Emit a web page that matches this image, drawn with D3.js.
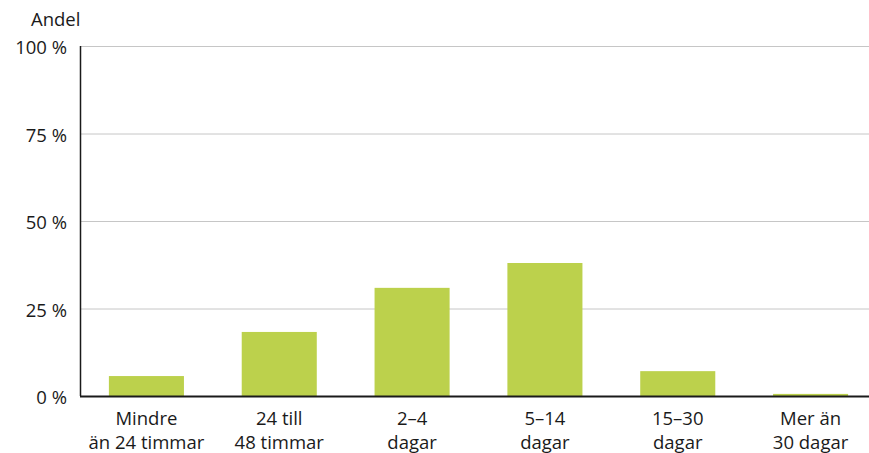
<!DOCTYPE html>
<html>
<head>
<meta charset="utf-8">
<script src="https://cdn.jsdelivr.net/npm/d3@7"></script>
<style>
  html, body { margin: 0; padding: 0; background: #fff; }
  svg { display: block; font-family: "Open Sans", Lato, sans-serif; }
</style>
</head>
<body>
<svg id="chart" width="869" height="453"></svg>
<script>
// Duration categories (two label lines each) and share per category, in percent
const categoryLine1 = ["Mindre", "24 till", "2–4", "5–14", "15–30", "Mer än"];
const categoryLine2 = ["än 24 timmar", "48 timmar", "dagar", "dagar", "dagar", "30 dagar"];
const shares = [5.7, 18.3, 30.9, 38.0, 7.1, 0.6];
const yTicks = [0, 25, 50, 75, 100];
const yTickLabels = ["0 %", "25 %", "50 %", "75 %", "100 %"];
const yAxisTitle = "Andel";

(function () {
  const svg = d3.select("#chart");
  const plotLeft = 80, plotRight = 877, plotTop = 46, plotBottom = 396;
  const fontSize = 18.5;
  const textColor = "#1a1a1a";

  const x = d3.scaleBand()
    .domain(d3.range(shares.length))
    .range([plotLeft, plotRight])
    .paddingInner(0.435)
    .paddingOuter(0.2175);

  const y = d3.scaleLinear().domain([0, 100]).range([plotBottom, plotTop]);

  // Horizontal gridlines
  svg.append("g")
    .selectAll("line")
    .data(yTicks.filter(t => t > 0))
    .join("line")
    .attr("x1", plotLeft).attr("x2", 869)
    .attr("y1", d => y(d) + 0.5).attr("y2", d => y(d) + 0.5)
    .attr("stroke", "#c6c6c6").attr("stroke-width", 1);

  // Bars
  svg.append("g")
    .selectAll("rect")
    .data(shares)
    .join("rect")
    .attr("x", (d, i) => x(i))
    .attr("width", x.bandwidth())
    .attr("y", d => y(d))
    .attr("height", d => y(0) - y(d))
    .attr("fill", "#bcd14c");

  // Y axis with percentage labels
  const yAxis = d3.axisLeft(y)
    .tickValues(yTicks)
    .tickFormat((d, i) => yTickLabels[i])
    .tickSize(0)
    .tickPadding(13);

  const yG = svg.append("g").attr("transform", `translate(${plotLeft},0)`).call(yAxis);
  yG.select(".domain").remove();
  yG.selectAll("text")
    .attr("fill", textColor)
    .attr("font-size", fontSize)
    .attr("font-family", "'Open Sans', Lato, sans-serif")
    .attr("dy", "0.42em");

  // Vertical axis line
  svg.append("line")
    .attr("x1", plotLeft + 0.5).attr("x2", plotLeft + 0.5)
    .attr("y1", plotTop).attr("y2", plotBottom)
    .attr("stroke", textColor).attr("stroke-width", 1.5);

  // Baseline
  svg.append("line")
    .attr("x1", plotLeft).attr("x2", 869)
    .attr("y1", plotBottom + 0.5).attr("y2", plotBottom + 0.5)
    .attr("stroke", textColor).attr("stroke-width", 2);

  // Category labels
  const cx = i => x(i) + x.bandwidth() / 2;
  const xLabels = svg.append("g")
    .selectAll("text")
    .data(shares)
    .join("text")
    .attr("text-anchor", "middle")
    .attr("font-size", fontSize)
    .attr("fill", textColor);
  xLabels.append("tspan").attr("x", (d, i) => cx(i)).attr("y", 425)
    .text((d, i) => categoryLine1[i]);
  xLabels.append("tspan").attr("x", (d, i) => cx(i)).attr("y", 449)
    .text((d, i) => categoryLine2[i]);

  // Axis title
  svg.append("text")
    .attr("x", 31).attr("y", 26)
    .attr("font-size", fontSize)
    .attr("fill", textColor)
    .text(yAxisTitle);
})();
</script>
</body>
</html>
